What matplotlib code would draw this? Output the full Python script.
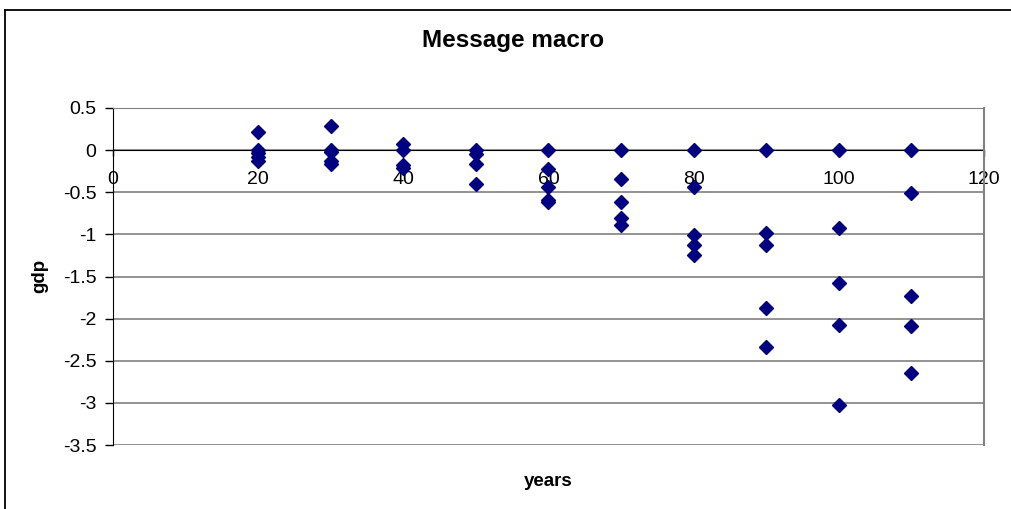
import numpy as np
import matplotlib.pyplot as plt
from matplotlib.lines import Line2D

plt.rcParams['font.family'] = ['Liberation Sans', 'DejaVu Sans']

# gdp deviation per simulated year
years_20 = [20, 20, 20, 20, 20]
gdp_20 = [0.22, 0.0, -0.03, -0.08, -0.13]
years_30 = [30, 30, 30, 30, 30]
gdp_30 = [0.29, 0.0, -0.02, -0.13, -0.17]
years_40 = [40, 40, 40, 40]
gdp_40 = [0.07, 0.0, -0.18, -0.21]
years_50 = [50, 50, 50, 50]
gdp_50 = [0.0, -0.05, -0.16, -0.40]
years_60 = [60, 60, 60, 60, 60]
gdp_60 = [0.0, -0.22, -0.44, -0.59, -0.61]
years_70 = [70, 70, 70, 70, 70]
gdp_70 = [0.0, -0.34, -0.61, -0.81, -0.89]
years_80 = [80, 80, 80, 80, 80]
gdp_80 = [0.0, -0.44, -1.01, -1.13, -1.24]
years_90 = [90, 90, 90, 90, 90]
gdp_90 = [0.0, -0.98, -1.13, -1.87, -2.34]
years_100 = [100, 100, 100, 100, 100]
gdp_100 = [0.0, -0.93, -1.58, -2.07, -3.02]
years_110 = [110, 110, 110, 110, 110]
gdp_110 = [0.0, -0.51, -1.73, -2.09, -2.64]

x = years_20 + years_30 + years_40 + years_50 + years_60 + years_70 + years_80 + years_90 + years_100 + years_110
y = gdp_20 + gdp_30 + gdp_40 + gdp_50 + gdp_60 + gdp_70 + gdp_80 + gdp_90 + gdp_100 + gdp_110

xticks = [0, 20, 40, 60, 80, 100, 120]
yticks = [0.5, 0, -0.5, -1, -1.5, -2, -2.5, -3, -3.5]
ytick_labels = ['0.5', '0', '-0.5', '-1', '-1.5', '-2', '-2.5', '-3', '-3.5']

W, H = 1012, 509
fig = plt.figure(figsize=(W / 100, H / 100), dpi=100)
ax = fig.add_axes([113 / W, 1 - 445 / H, (984 - 113) / W, (445 - 108) / H])

# chart border (left and top edges only fall inside the image)
bx, by = 5.5 / W, 1 - 9.5 / H
fig.lines.append(Line2D([bx, bx], [0, by], transform=fig.transFigure, color='black', linewidth=1.3))
fig.lines.append(Line2D([bx, 1], [by, by], transform=fig.transFigure, color='black', linewidth=1.3))

ax.set_xlim(0, 120)
ax.set_ylim(-3.5, 0.5)
for v in yticks:
    ax.axhline(v, color='#808080', linewidth=1.2, zorder=1)

ax.plot(x, y, linestyle='none', marker='D', markersize=7, color='#000080', zorder=3)

ax.spines['top'].set_color('#808080')
ax.spines['right'].set_color('#808080')
ax.spines['right'].set_linewidth(1.5)
ax.spines['left'].set_color('black')
ax.spines['bottom'].set_position(('data', 0))
ax.spines['bottom'].set_color('black')
ax.spines['bottom'].set_zorder(2)

ax.set_xticks(xticks)
ax.set_xticklabels([str(t) for t in xticks])
ax.set_yticks(yticks)
ax.set_yticklabels(ytick_labels)
ax.tick_params(axis='y', direction='out', length=6, width=1, labelsize=14, pad=6)
ax.tick_params(axis='x', direction='out', length=4, width=1, labelsize=14, pad=11)

fig.text(513 / W, 1 - 40 / H, 'Message macro', ha='center', va='center',
         fontsize=17.5, fontweight='bold')
fig.text(548 / W, 1 - 481 / H, 'years', ha='center', va='center',
         fontsize=13.5, fontweight='bold')
fig.text(40 / W, 1 - 276 / H, 'gdp', ha='center', va='center', rotation=90,
         fontsize=13.5, fontweight='bold')

fig.savefig('out.png', dpi=100)
